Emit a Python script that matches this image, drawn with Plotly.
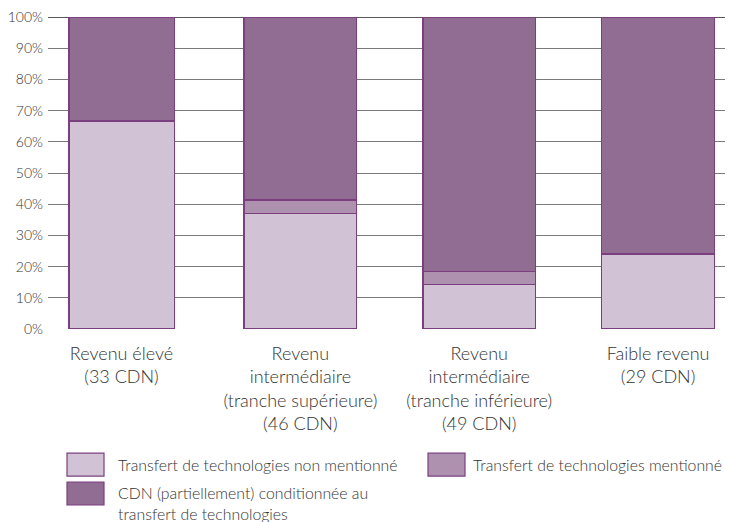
import plotly.graph_objects as go

# Données
categories = [
    "Revenu élevé<br>(33 CDN)",
    "Revenu<br>intermédiaire<br>(tranche supérieure)<br>(46 CDN)",
    "Revenu<br>intermédiaire<br>(tranche inférieure)<br>(49 CDN)",
    "Faible revenu<br>(29 CDN)",
]
non_mentionne = [66.7, 37.0, 14.3, 24.1]
mentionne = [0.0, 4.3, 4.1, 0.0]
conditionnee = [33.3, 58.7, 81.6, 75.9]

noms = [
    "Transfert de technologies non mentionné",
    "Transfert de technologies mentionné",
    "CDN (partiellement) conditionnée au<br>transfert de technologies",
]
couleurs = ["#d1c2d6", "#ae91ae", "#916c93"]
bordure = "#7b3f80"
police = "Lato"

# la page a une marge de 8 px : la figure est décalée d'autant
L, T, W, H = 40, 7, 685, 314
larg, haut = 725, 514

fig = go.Figure()
for vals, nom, coul in zip([non_mentionne, mentionne, conditionnee], noms, couleurs):
    fig.add_trace(go.Bar(
        x=list(range(len(categories))), y=vals, name=nom,
        marker=dict(color=coul, line=dict(color=bordure, width=1.5)),
        width=[0.59, 0.63, 0.63, 0.63],
        showlegend=False,
    ))

fig.update_layout(
    barmode="stack",
    width=larg, height=haut,
    margin=dict(l=L, r=larg - L - W, t=T, b=haut - T - H),
    plot_bgcolor="white", paper_bgcolor="white",
    font=dict(family=police, color="#333333"),
)
fig.update_xaxes(
    range=[-0.411, 3.419],
    tickvals=list(range(len(categories))), ticktext=categories,
    tickfont=dict(size=18, color="#333333", weight=300),
    showgrid=False, zeroline=False, ticks="", ticklabelstandoff=12,
)
fig.update_yaxes(
    range=[0, 100], dtick=10, ticksuffix="%",
    tickfont=dict(size=14, color="#333333", weight=300),
    showgrid=True, gridcolor="#7a7a7a", gridwidth=1.3,
    zeroline=False, ticks="", ticklabelstandoff=4, ticklabeloverflow="allow",
)
# ligne du haut plus foncée
fig.add_shape(type="line", xref="paper", yref="y", x0=0, x1=1, y0=100, y1=100,
              line=dict(color="#222222", width=1.5), layer="below")


def px_x(x):
    return (x - 8 - L) / W


def px_y(y):
    return 1 - (y - 8 - T) / H


# Légende dessinée à la main (coordonnées en pixels de l'image)
legende = [
    (67, 454, 104, 477, 116, 465.5),
    (428, 454, 465, 477, 471, 465.5),
    (67, 483, 104, 506, 116, 504),
]
for (x0, y0, x1, y1, tx, ty), nom, coul in zip(legende, noms, couleurs):
    fig.add_shape(type="rect", xref="paper", yref="paper",
                  x0=px_x(x0), x1=px_x(x1), y0=px_y(y0), y1=px_y(y1),
                  fillcolor=coul, line=dict(color=bordure, width=1.2))
    fig.add_annotation(xref="paper", yref="paper", x=px_x(tx), y=px_y(ty),
                       text=nom, showarrow=False, xanchor="left", yanchor="middle",
                       align="left", font=dict(size=15.8, color="#333333", weight=300))

fig.write_html("out.html")
